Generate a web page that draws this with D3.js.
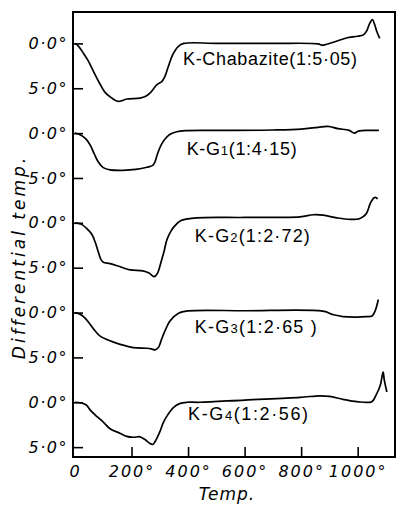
<!DOCTYPE html>
<html>
<head>
<meta charset="utf-8">
<script src="https://cdn.jsdelivr.net/npm/d3@7"></script>
<style>
  html, body { margin: 0; padding: 0; background: #fff; }
  svg { display: block; }
</style>
</head>
<body>
<figure id="dta" style="margin:0"></figure>
<script>
// DTA curves (temp in °C, differential temp in °, + = down)
const chabaziteTemp = [0, 12, 30, 46, 65, 88, 105, 124, 150, 165, 183, 230, 250, 265, 290, 307, 318, 330, 345, 365, 385, 500, 700, 860, 875, 890, 930, 960, 1000, 1020, 1032, 1042, 1052, 1060, 1068, 1078];
const chabaziteDiff = [0, 0.3, 1.1, 1.9, 3.1, 4.5, 5.4, 5.95, 6.45, 6.4, 6.2, 6.1, 5.9, 5.55, 4.6, 4.25, 3.7, 2.6, 1.3, 0.35, 0, 0, 0, 0.05, 0.2, 0.1, -0.3, -0.6, -0.8, -0.95, -1.4, -2.2, -2.65, -2.1, -1.3, -0.55];

const g1Temp = [0, 20, 40, 55, 68, 82, 100, 124, 170, 215, 255, 275, 283, 292, 305, 320, 335, 360, 390, 500, 700, 800, 860, 895, 930, 970, 988, 1005, 1040, 1075];
const g1Diff = [0, 0.2, 0.7, 1.4, 2.3, 3.2, 3.85, 4.1, 4.15, 4.05, 3.8, 3.6, 3.2, 2.3, 1.3, 0.6, 0.15, -0.15, -0.27, -0.3, -0.35, -0.45, -0.65, -0.75, -0.5, -0.3, 0, -0.25, -0.3, -0.3];

const g2Temp = [0, 10, 25, 45, 60, 72, 82, 92, 100, 124, 160, 195, 240, 262, 280, 292, 305, 315, 325, 340, 350, 375, 430, 600, 796, 843, 878, 926, 973, 1008, 1030, 1045, 1058, 1066, 1070];
const g2Diff = [0, 0.05, 0.2, 0.75, 1.3, 2.2, 3.2, 4.1, 4.4, 4.55, 4.9, 5.25, 5.35, 5.6, 6.0, 5.6, 4.3, 3.2, 1.9, 0.9, 0.45, -0.25, -0.55, -0.6, -0.67, -0.9, -0.85, -0.55, -0.38, -0.48, -1.0, -2.2, -2.8, -2.8, -2.65];

const g3Temp = [0, 18, 35, 53, 70, 88, 124, 160, 206, 254, 270, 283, 295, 305, 315, 336, 365, 400, 600, 877, 915, 948, 998, 1030, 1051, 1062, 1073];
const g3Diff = [0, 0.2, 0.6, 1.3, 2.0, 2.6, 3.15, 3.55, 3.9, 3.98, 4.05, 4.16, 3.9, 3.1, 2.3, 0.93, 0.1, -0.18, -0.2, -0.15, 0.25, 0.45, 0.5, 0.45, 0.38, -0.2, -1.45];

const g4Temp = [0, 20, 40, 55, 78, 100, 124, 159, 183, 206, 230, 250, 265, 275, 283, 300, 312, 324, 348, 370, 396, 442, 600, 796, 867, 900, 948, 997, 1050, 1065, 1080, 1090, 1094, 1100, 1103];
const g4Diff = [0, 0.05, 0.3, 0.9, 1.6, 2.2, 2.95, 3.45, 3.8, 3.9, 3.85, 4.2, 4.6, 4.7, 4.4, 3.3, 2.3, 1.6, 0.6, 0.15, 0, 0, -0.25, -0.55, -0.72, -0.65, -0.33, -0.07, -0.07, -0.8, -1.9, -3.35, -2.5, -1.6, -1.15];

const curveTemps = [chabaziteTemp, g1Temp, g2Temp, g3Temp, g4Temp];
const curveDiffs = [chabaziteDiff, g1Diff, g2Diff, g3Diff, g4Diff];

// curve labels
const labelNames = ['K-Chabazite', 'K-G', 'K-G', 'K-G', 'K-G'];
const labelSubs = ['', '1', '2', '3', '4'];
const labelRatios = ['(1:5·05)', '(1:4·15)', '(1:2·72)', '(1:2·65 )', '(1:2·56)'];

// ticks
const xTickValues = [0, 200, 400, 600, 800, 1000];
const xTickLabels = ['0', '200°', '400°', '600°', '800°', '1000°'];
const yTickLabels = ['0·0°', '5·0°'];

// layout
const width = 399;
const height = 506;
const frame = { left: 73, right: 395, top: 12, bottom: 457 };
const panelStep = 10;   // each curve is shifted down by 10°
const labelPos = [[382, 2.42], [395, 2.45], [424, 2.1], [424, 2.3], [400, 2.0]];
const labelWidths = [174, 110, 115, 122, 120];

const svg = d3.select('figure#dta')
  .append('svg')
  .attr('width', width)
  .attr('height', height);

const x = d3.scaleLinear().domain([-7, 1132]).range([frame.left, frame.right]);
const y = d3.scaleLinear().domain([-3.5, 46.1]).range([frame.top, frame.bottom]);

// y axis: a 0·0° and 5·0° tick for each curve
const yTicks = [];
curveTemps.forEach((c, i) => { yTicks.push(i * panelStep, i * panelStep + 5); });

const yAxis = d3.axisLeft(y)
  .tickValues(yTicks)
  .tickSizeInner(-10)
  .tickSizeOuter(0)
  .tickPadding(5)
  .tickFormat(d => yTickLabels[(d % panelStep === 0) ? 0 : 1]);

const gy = svg.append('g')
  .attr('transform', `translate(${frame.left},0)`)
  .call(yAxis);
gy.select('.domain').remove();
gy.selectAll('line').attr('stroke', '#000').attr('stroke-width', 1.6);
gy.selectAll('text')
  .attr('fill', '#000')
  .style('font-family', 'DejaVu Sans')
  .style('font-style', 'italic')
  .style('font-size', '16px')
  .style('letter-spacing', '1.5px');

// x axis
const xAxis = d3.axisBottom(x)
  .tickValues(xTickValues)
  .tickSizeInner(-10)
  .tickSizeOuter(0)
  .tickPadding(9)
  .tickFormat((d, i) => xTickLabels[i]);

const gx = svg.append('g')
  .attr('transform', `translate(0,${frame.bottom})`)
  .call(xAxis);
gx.select('.domain').remove();
gx.selectAll('line').attr('stroke', '#000').attr('stroke-width', 1.6);
gx.selectAll('.tick').filter(d => d === 0).select('line').remove();
gx.selectAll('text')
  .attr('fill', '#000')
  .style('font-family', 'DejaVu Sans')
  .style('font-style', 'italic')
  .style('font-size', '16px')
  .style('letter-spacing', '2px');

// frame
svg.append('rect')
  .attr('x', frame.left)
  .attr('y', frame.top)
  .attr('width', frame.right - frame.left)
  .attr('height', frame.bottom - frame.top)
  .attr('fill', 'none')
  .attr('stroke', '#000')
  .attr('stroke-width', 2);

// curves
const line = d3.line()
  .x(d => x(d[0]))
  .y(d => y(d[1]))
  .curve(d3.curveCatmullRom.alpha(0.5));

curveTemps.forEach((temps, i) => {
  const pts = temps.map((t, j) => [t, i * panelStep + curveDiffs[i][j]]);
  svg.append('path')
    .attr('d', line(pts))
    .attr('fill', 'none')
    .attr('stroke', '#000')
    .attr('stroke-width', 1.7)
    .attr('stroke-linejoin', 'round');
});

// labels
labelNames.forEach((name, i) => {
  const t = svg.append('text')
    .attr('x', x(labelPos[i][0]))
    .attr('y', y(i * panelStep + labelPos[i][1]))
    .attr('textLength', labelWidths[i])
    .attr('lengthAdjust', 'spacing')
    .attr('fill', '#000')
    .style('font-family', 'Liberation Sans')
    .style('font-size', '18px');
  t.append('tspan').text(name);
  if (labelSubs[i]) t.append('tspan').style('font-size', '13px').text(labelSubs[i]);
  t.append('tspan').text(labelRatios[i]);
});

// axis titles
svg.append('text')
  .attr('transform', 'translate(25,257) rotate(-90)')
  .attr('text-anchor', 'middle')
  .attr('fill', '#000')
  .style('font-family', 'DejaVu Sans')
  .style('font-style', 'italic')
  .style('font-size', '17px')
  .style('letter-spacing', '3px')
  .text('Differential temp.');

svg.append('text')
  .attr('x', 227)
  .attr('y', 500)
  .attr('text-anchor', 'middle')
  .attr('fill', '#000')
  .style('font-family', 'DejaVu Sans')
  .style('font-style', 'italic')
  .style('font-size', '17px')
  .style('letter-spacing', '1px')
  .text('Temp.');
</script>
</body>
</html>
